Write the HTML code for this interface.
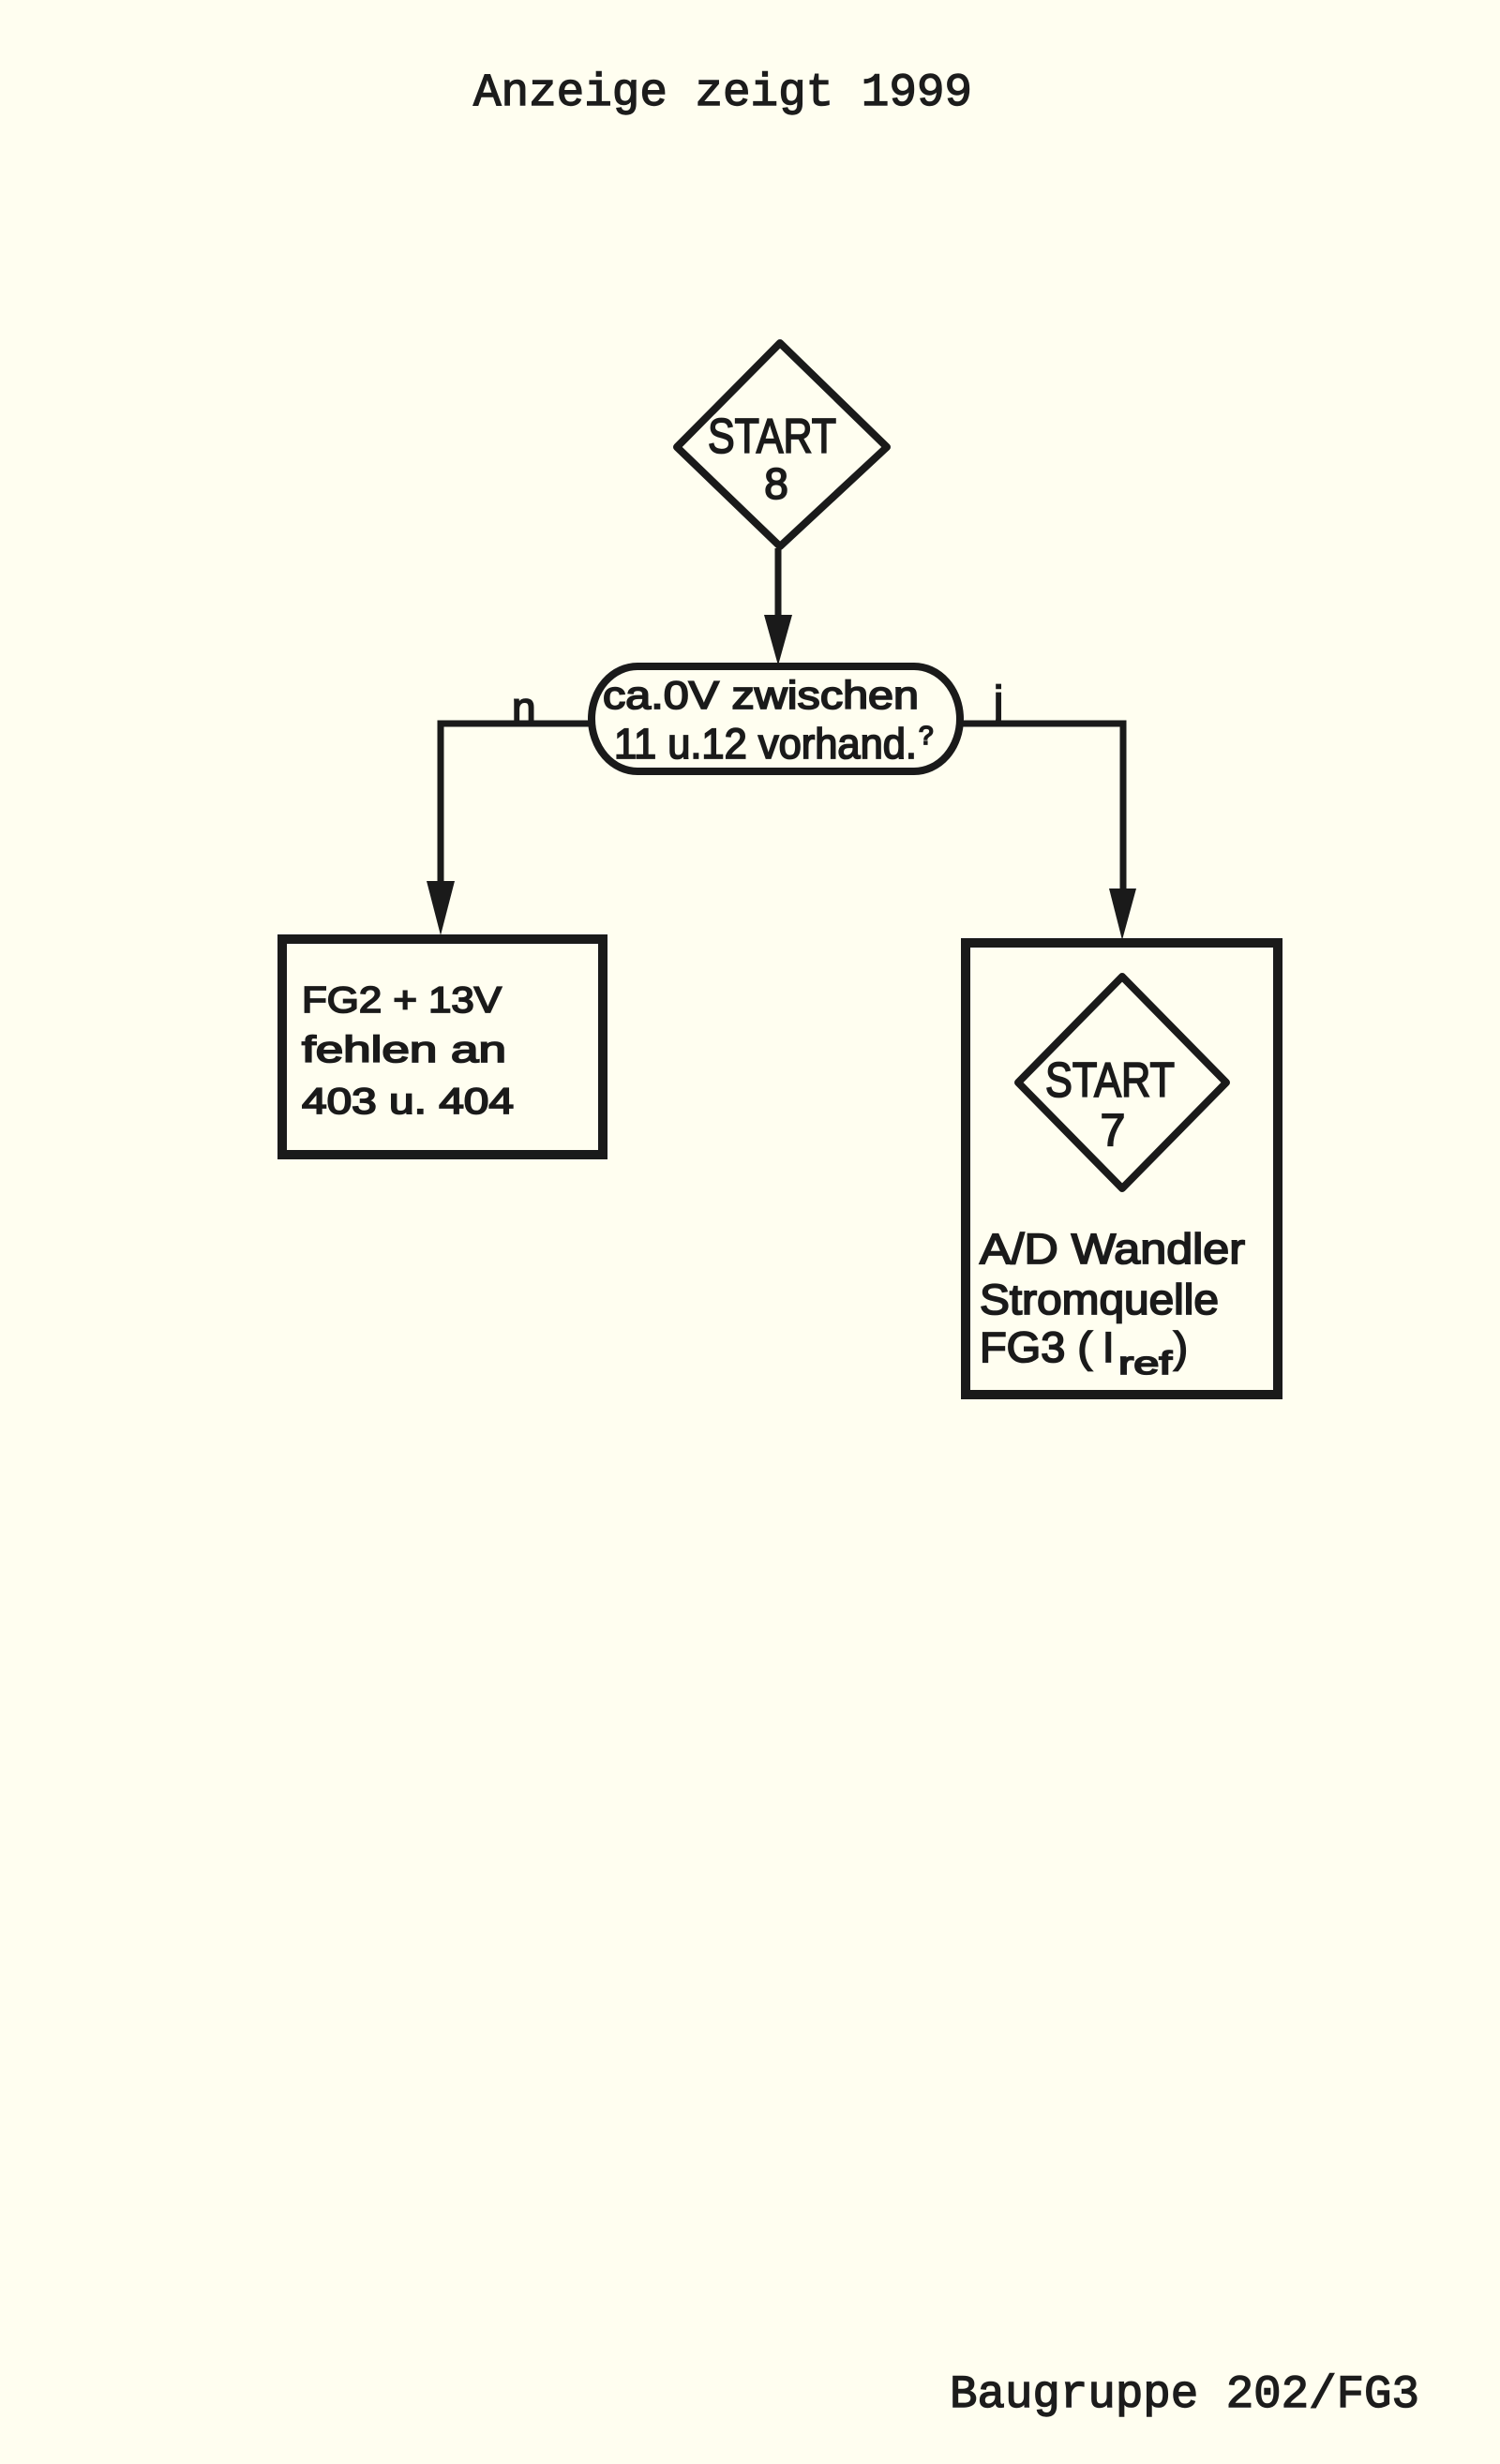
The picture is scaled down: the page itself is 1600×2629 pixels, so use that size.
<!DOCTYPE html>
<html>
<head>
<meta charset="utf-8">
<style>
  html, body { margin:0; padding:0; background:#fffef0; }
  body { width:1600px; height:2629px; overflow:hidden; }
  svg { display:block; }
  .tw { font-family:"Liberation Mono", monospace; fill:#1c1c1c; stroke:#1c1c1c; stroke-width:1.4; }
  .hl { font-family:"Liberation Sans", sans-serif; fill:#1a1a1a; stroke:#1a1a1a; stroke-width:1.8; }
</style>
</head>
<body>
<svg width="1600" height="2629" viewBox="0 0 1600 2629" xmlns="http://www.w3.org/2000/svg">
  <rect x="0" y="0" width="1600" height="2629" fill="#fffef0"/>

  <!-- Title -->
  <text class="tw" x="505" y="112" font-size="49" textLength="532" lengthAdjust="spacingAndGlyphs">Anzeige zeigt 1999</text>

  <!-- START 8 diamond -->
  <polygon points="832,366 946,477 832,583 722,477" fill="none" stroke="#1a1a1a" stroke-width="8" stroke-linejoin="round"/>
  <text class="hl" x="755" y="483" font-size="52" textLength="137" lengthAdjust="spacingAndGlyphs">START</text>
  <text class="hl" x="828" y="532" font-size="46" text-anchor="middle">8</text>

  <!-- connector diamond -> decision -->
  <line x1="830" y1="585" x2="830" y2="660" stroke="#1a1a1a" stroke-width="7"/>
  <polygon points="815,656 845,656 830,710" fill="#1a1a1a"/>

  <!-- Decision -->
  <path d="M680,711 H975 A49 56 0 0 1 975,823 H680 A49 56 0 0 1 680,711 Z" fill="none" stroke="#1a1a1a" stroke-width="8"/>
  <text class="hl" x="643" y="756" font-size="42" textLength="337" lengthAdjust="spacingAndGlyphs">ca.0V zwischen</text>
  <text class="hl" x="655" y="809" font-size="45" textLength="323" lengthAdjust="spacingAndGlyphs">11 u.12 vorhand.</text>
  <text class="hl" x="980" y="794" font-size="28" stroke-width="1">?</text>

  <!-- n branch -->
  <text class="hl" x="546" y="771" font-size="46">n</text>
  <polyline points="629,772 470,772 470,945" fill="none" stroke="#1a1a1a" stroke-width="7" stroke-linejoin="miter"/>
  <polygon points="455,940 485,940 470,998" fill="#1a1a1a"/>

  <!-- j branch -->
  <text class="hl" x="1060" y="764" font-size="46">j</text>
  <polyline points="1024,772 1198,772 1198,952" fill="none" stroke="#1a1a1a" stroke-width="7" stroke-linejoin="miter"/>
  <polygon points="1183,948 1212,948 1197,1003" fill="#1a1a1a"/>

  <!-- Left box -->
  <rect x="301" y="1002" width="342" height="230" fill="none" stroke="#1a1a1a" stroke-width="10"/>
  <text class="hl" x="322" y="1080" font-size="39" textLength="213" lengthAdjust="spacingAndGlyphs">FG2 + 13V</text>
  <text class="hl" x="322" y="1133" font-size="39" textLength="218" lengthAdjust="spacingAndGlyphs">fehlen an</text>
  <text class="hl" x="322" y="1188" font-size="39" textLength="226" lengthAdjust="spacingAndGlyphs">403 u. 404</text>

  <!-- Right box -->
  <rect x="1030" y="1006" width="333" height="482" fill="none" stroke="#1a1a1a" stroke-width="10"/>
  <polygon points="1197,1042 1308,1155 1197,1268 1086,1155" fill="none" stroke="#1a1a1a" stroke-width="8" stroke-linejoin="round"/>
  <text class="hl" x="1115" y="1170" font-size="52" textLength="138" lengthAdjust="spacingAndGlyphs">START</text>
  <text class="hl" x="1187" y="1222" font-size="48" text-anchor="middle">7</text>

  <text class="hl" x="1045" y="1348" font-size="45" textLength="283" lengthAdjust="spacingAndGlyphs">A/D Wandler</text>
  <text class="hl" x="1045" y="1402" font-size="45" textLength="255" lengthAdjust="spacingAndGlyphs">Stromquelle</text>
  <text class="hl" x="1045" y="1453" font-size="45" textLength="120" lengthAdjust="spacingAndGlyphs">FG3 (</text>
  <text class="hl" x="1176" y="1453" font-size="45">I</text>
  <text class="hl" x="1193" y="1466" font-size="34" textLength="57" lengthAdjust="spacingAndGlyphs">ref</text>
  <text class="hl" x="1252" y="1453" font-size="45">)</text>

  <!-- Footer -->
  <text class="tw" x="1013" y="2568" font-size="49" textLength="501" lengthAdjust="spacingAndGlyphs">Baugruppe 202/FG3</text>
</svg>
</body>
</html>
